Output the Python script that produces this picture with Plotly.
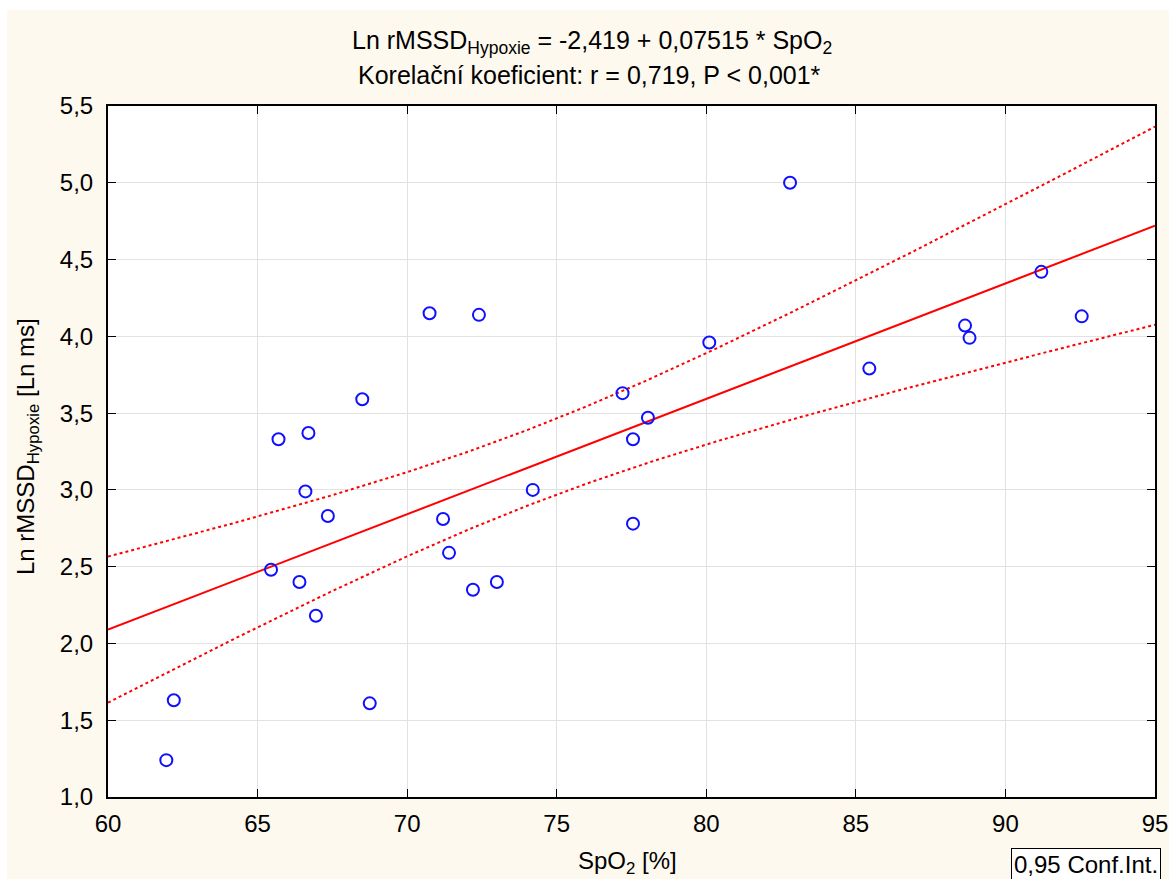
import numpy as np
import plotly.graph_objects as go

# Data
spo2 = [61.95, 62.2, 65.45, 65.7, 66.4, 66.6, 66.7, 66.95, 67.35, 68.5, 68.75,
        70.75, 71.2, 71.4, 72.2, 72.4, 73.0, 74.2, 77.2, 77.55, 77.55, 78.05,
        80.1, 82.8, 85.45, 88.65, 88.8, 91.2, 92.55]
ln_rmssd = [1.24, 1.63, 2.48, 3.33, 2.40, 2.99, 3.37, 2.18, 2.83, 3.59, 1.61,
            4.15, 2.81, 2.59, 2.35, 4.14, 2.40, 3.00, 3.63, 3.33, 2.78, 3.47,
            3.96, 5.00, 3.79, 4.07, 3.99, 4.42, 4.13]

intercept = -2.419
slope = 0.07515
t_crit = 2.052  # t(0.975, df=27)

x_ticks = [60, 65, 70, 75, 80, 85, 90, 95]
x_tick_labels = ["60", "65", "70", "75", "80", "85", "90", "95"]
y_ticks = [1.0, 1.5, 2.0, 2.5, 3.0, 3.5, 4.0, 4.5, 5.0, 5.5]
y_tick_labels = ["1,0", "1,5", "2,0", "2,5", "3,0", "3,5", "4,0", "4,5", "5,0", "5,5"]

x = np.array(spo2)
y = np.array(ln_rmssd)
n = len(x)
resid = y - (intercept + slope * x)
s = np.sqrt(np.sum(resid ** 2) / (n - 2))
xbar = x.mean()
sxx = np.sum((x - xbar) ** 2)

xg = np.linspace(60, 95, 200)
yg = intercept + slope * xg
half = t_crit * s * np.sqrt(1.0 / n + (xg - xbar) ** 2 / sxx)

FONT = "Liberation Sans, Arial, sans-serif"
RED = "#ff0000"
BLUE = "#1010ff"
CREAM = "#fef9ee"

fig = go.Figure()
fig.add_trace(go.Scatter(x=xg, y=yg + half, mode="lines",
                         line=dict(color=RED, width=2, dash="dot"), hoverinfo="skip"))
fig.add_trace(go.Scatter(x=xg, y=yg - half, mode="lines",
                         line=dict(color=RED, width=2, dash="dot"), hoverinfo="skip"))
fig.add_trace(go.Scatter(x=xg, y=yg, mode="lines",
                         line=dict(color=RED, width=2), hoverinfo="skip"))
fig.add_trace(go.Scatter(x=spo2, y=ln_rmssd, mode="markers",
                         marker=dict(symbol="circle-open", size=12, color=BLUE,
                                     line=dict(width=2, color=BLUE))))

W, H = 1169, 879
L, R, T, B = 108, 14, 106, 82
pw = W - L - R
ph = H - T - B


def px(xp):
    return (xp - L) / pw


def py(yp):
    return (H - B - yp) / ph


axis_common = dict(showgrid=True, gridcolor="#e2e2e2", gridwidth=1,
                   showline=True, linecolor="black", linewidth=2, mirror="ticks",
                   ticks="inside", ticklen=8, tickcolor="black", zeroline=False,
                   automargin=False, tickfont=dict(size=24, family=FONT))

fig.update_layout(
    width=W, height=H,
    margin=dict(l=L, r=R, t=T, b=B, autoexpand=False),
    paper_bgcolor=CREAM,
    plot_bgcolor="white",
    showlegend=False,
    font=dict(family=FONT, size=24, color="#000000"),
    xaxis=dict(range=[60, 95], tickvals=x_ticks, ticktext=x_tick_labels,
               ticklabelstandoff=4, **axis_common),
    yaxis=dict(range=[1.0, 5.5], tickvals=y_ticks, ticktext=y_tick_labels,
               ticklabelstandoff=8, **axis_common),
    shapes=[
        dict(type="rect", xref="paper", yref="paper", x0=px(0), x1=px(7),
             y0=py(H), y1=py(0), fillcolor="white", line=dict(width=0), layer="below"),
        dict(type="rect", xref="paper", yref="paper", x0=px(0), x1=px(W),
             y0=py(10), y1=py(0), fillcolor="white", line=dict(width=0), layer="below"),
    ],
    annotations=[
        dict(text="Ln rMSSD<sub>Hypoxie</sub> = -2,419 + 0,07515 * SpO<sub>2</sub>",
             xref="paper", yref="paper", x=px(592), y=py(42), showarrow=False,
             font=dict(size=25, family=FONT), xanchor="center", yanchor="middle"),
        dict(text="Korelační koeficient: r = 0,719, P < 0,001*",
             xref="paper", yref="paper", x=px(589), y=py(75), showarrow=False,
             font=dict(size=25, family=FONT), xanchor="center", yanchor="middle"),
        dict(text="Ln rMSSD<sub>Hypoxie</sub> [Ln ms]",
             xref="paper", yref="paper", x=px(27), y=py(447), showarrow=False,
             textangle=-90, font=dict(size=24, family=FONT),
             xanchor="center", yanchor="middle"),
        dict(text="SpO<sub>2</sub> [%]",
             xref="paper", yref="paper", x=px(627), y=py(862), showarrow=False,
             font=dict(size=24, family=FONT), xanchor="center", yanchor="middle"),
        dict(text="0,95 Conf.Int.",
             xref="paper", yref="paper", x=px(1011), y=py(848), showarrow=False,
             font=dict(size=24, family=FONT), xanchor="left", yanchor="top",
             bordercolor="black", borderwidth=1, borderpad=2, bgcolor="white"),
    ],
)

fig.write_html("out.html")
